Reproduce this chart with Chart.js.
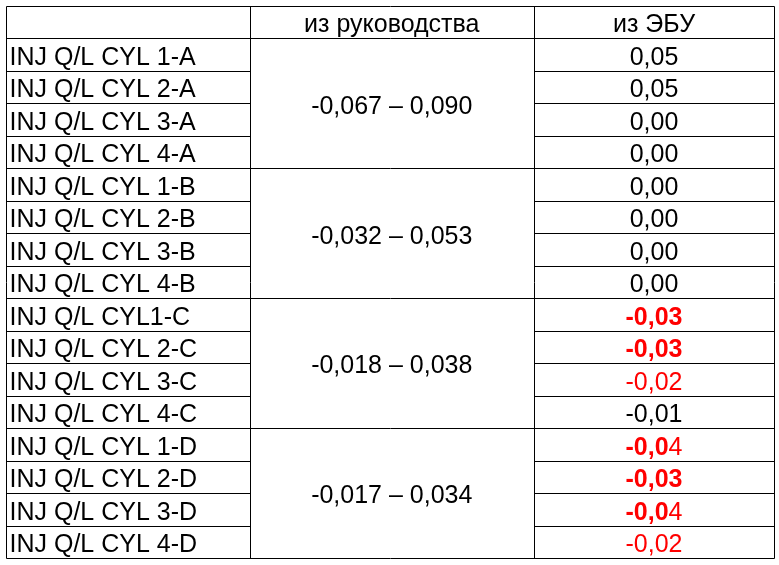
<!DOCTYPE html>
<html>
<head>
<meta charset="utf-8">
<script src="https://cdn.jsdelivr.net/npm/chart.js@4.4.1/dist/chart.umd.min.js"></script>
<style>
  html, body { margin: 0; padding: 0; background: #ffffff; }
  #wrap { width: 779px; height: 565px; }
</style>
</head>
<body>
<div id="wrap"><canvas id="tableChart" width="779" height="565"></canvas></div>
<script>
// Заголовки столбцов
const headers = ["", "из руководства", "из ЭБУ"];

// Параметры (строки таблицы)
const rowLabels = [
  "INJ Q/L CYL 1-A", "INJ Q/L CYL 2-A", "INJ Q/L CYL 3-A", "INJ Q/L CYL 4-A",
  "INJ Q/L CYL 1-B", "INJ Q/L CYL 2-B", "INJ Q/L CYL 3-B", "INJ Q/L CYL 4-B",
  "INJ Q/L CYL1-C", "INJ Q/L CYL 2-C", "INJ Q/L CYL 3-C", "INJ Q/L CYL 4-C",
  "INJ Q/L CYL 1-D", "INJ Q/L CYL 2-D", "INJ Q/L CYL 3-D", "INJ Q/L CYL 4-D",
];

// Диапазоны из руководства (одна пара на группу из 4 строк)
const rangeMin = [-0.067, -0.032, -0.018, -0.017];
const rangeMax = [0.09, 0.053, 0.038, 0.034];

// Значения из ЭБУ
const ebuValues = [
  0.05, 0.05, 0.0, 0.0,
  0.0, 0.0, 0.0, 0.0,
  -0.03, -0.03, -0.02, -0.01,
  -0.04, -0.03, -0.04, -0.02,
];

// Выделение значений: красный цвет и число жирных символов в начале
const ebuRed = [
  false, false, false, false,
  false, false, false, false,
  true, true, true, false,
  true, true, true, true,
];
const ebuBoldChars = [
  0, 0, 0, 0,
  0, 0, 0, 0,
  5, 5, 0, 0,
  4, 5, 4, 0,
];

const groupSize = 4;

// Границы столбцов в единицах оси X
const colEdges = [0, 243.5, 528, 768];

const fontFamily = "'Liberation Sans', Arial, sans-serif";
const fontSize = 25;

function fmt(v, digits) {
  return v.toFixed(digits).replace(".", ",");
}

// Плагин: рисует сетку и текст таблицы по шкалам графика
const tablePlugin = {
  id: "tableGrid",
  afterDraw(chart) {
    const { ctx } = chart;
    const { x, y } = chart.scales;
    const px = (v) => Math.round(x.getPixelForValue(v)) + 0.5;
    const py = (v) => Math.round(y.getPixelForValue(v)) + 0.5;
    const nRows = rowLabels.length + 1;

    ctx.save();
    ctx.strokeStyle = "#000000";
    ctx.lineWidth = 1;
    ctx.beginPath();

    // Вертикальные линии
    colEdges.forEach((e) => {
      ctx.moveTo(px(e), py(0));
      ctx.lineTo(px(e), py(nRows));
    });

    // Горизонтальные линии
    for (let k = 0; k <= nRows; k++) {
      const full = k <= 1 || (k - 1) % groupSize === 0;
      if (full) {
        ctx.moveTo(px(colEdges[0]), py(k));
        ctx.lineTo(px(colEdges[3]), py(k));
      } else {
        ctx.moveTo(px(colEdges[0]), py(k));
        ctx.lineTo(px(colEdges[1]), py(k));
        ctx.moveTo(px(colEdges[2]), py(k));
        ctx.lineTo(px(colEdges[3]), py(k));
      }
    }
    ctx.stroke();

    const baseOffset = fontSize * 0.41;
    const normalFont = fontSize + "px " + fontFamily;
    const boldFont = "bold " + fontSize + "px " + fontFamily;
    const center = (c) => x.getPixelForValue((colEdges[c] + colEdges[c + 1]) / 2);
    const rowBase = (r) => y.getPixelForValue(r + 0.5) + baseOffset;

    ctx.textBaseline = "alphabetic";
    ctx.fillStyle = "#000000";
    ctx.font = normalFont;

    // Заголовок
    ctx.textAlign = "center";
    headers.forEach((h, c) => {
      if (h) ctx.fillText(h, center(c), rowBase(0));
    });

    // Названия параметров
    ctx.textAlign = "left";
    rowLabels.forEach((label, i) => {
      ctx.fillText(label, x.getPixelForValue(colEdges[0]) + 3.5, rowBase(i + 1));
    });

    // Диапазоны (объединённые ячейки)
    ctx.textAlign = "center";
    rangeMin.forEach((lo, g) => {
      const mid = 1 + g * groupSize + groupSize / 2;
      const txt = fmt(lo, 3) + " \u2013 " + fmt(rangeMax[g], 3);
      ctx.fillText(txt, center(1), y.getPixelForValue(mid) + baseOffset);
    });

    // Значения из ЭБУ (частично жирные)
    ctx.textAlign = "left";
    ebuValues.forEach((v, i) => {
      const txt = fmt(v, 2);
      const nb = ebuBoldChars[i];
      const boldPart = txt.slice(0, nb);
      const restPart = txt.slice(nb);
      ctx.font = boldFont;
      const wb = ctx.measureText(boldPart).width;
      ctx.font = normalFont;
      const wr = ctx.measureText(restPart).width;
      let sx = center(2) - (wb + wr) / 2;
      const by = rowBase(i + 1);
      ctx.fillStyle = ebuRed[i] ? "#ff0000" : "#000000";
      if (boldPart) {
        ctx.font = boldFont;
        ctx.fillText(boldPart, sx, by);
        sx += wb;
      }
      ctx.font = normalFont;
      ctx.fillText(restPart, sx, by);
    });

    ctx.restore();
  },
};

const chart = new Chart(document.getElementById("tableChart"), {
  type: "scatter",
  data: { datasets: [{ data: [], pointRadius: 0 }] },
  options: {
    responsive: false,
    animation: false,
    devicePixelRatio: 1,
    layout: { padding: { left: 6, top: 6, right: 5, bottom: 7 } },
    plugins: { legend: { display: false }, tooltip: { enabled: false } },
    scales: {
      x: { type: "linear", min: colEdges[0], max: colEdges[3], display: false },
      y: { type: "linear", min: 0, max: rowLabels.length + 1, reverse: true, display: false },
    },
  },
  plugins: [tablePlugin],
});
</script>
</body>
</html>
